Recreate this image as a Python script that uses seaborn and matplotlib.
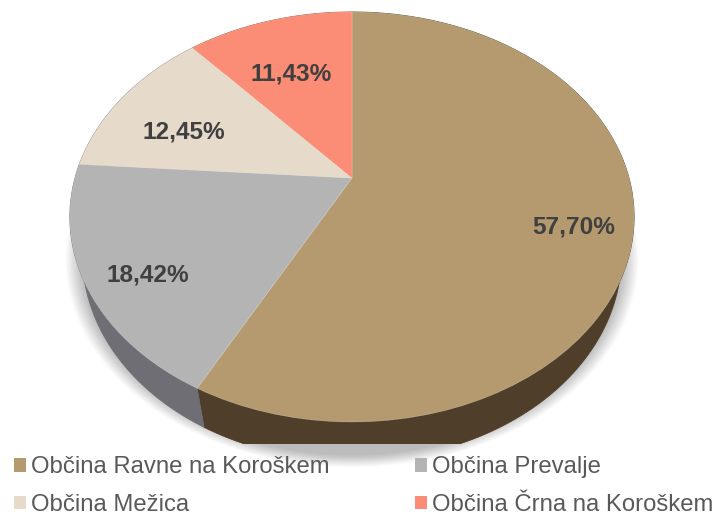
import numpy as np
import matplotlib
matplotlib.use("Agg")
import matplotlib.pyplot as plt
import seaborn as sns
from matplotlib.patches import Rectangle, Patch
from matplotlib.path import Path
from matplotlib.transforms import Transform

sns.set_theme(style="white")
plt.rcParams['font.family'] = ['Liberation Sans', 'DejaVu Sans']

# --- data -------------------------------------------------------------
categories = ["Občina Ravne na Koroškem", "Občina Prevalje", "Občina Mežica", "Občina Črna na Koroškem"]
values = [57.70, 18.42, 12.45, 11.43]
top_colors = ["#B49A6E", "#B4B4B4", "#E6DBCA", "#FB8C76"]
side_colors = ["#4F3E2A", "#6E6E74", "#8A8478", "#96543F"]
label_xy = [(574, 227), (148, 275), (184, 132), (291, 74)]

# --- perspective of the tilted disc (pixels) ----------------------------
CX, CY, A, B, K = 352.0, 178.0, 277.0, 197.6, 0.19
DEPTH, SHRINK = 39.0, 0.955
CLIP_Y = 444


def project(u, v):
    w = 1 + K * np.asarray(v)
    return CX + A * np.asarray(u) / w, CY - B * np.asarray(v) / w


class Tilt(Transform):
    input_dims = output_dims = 2
    has_inverted = False

    def transform_non_affine(self, xy):
        x, y = project(xy[:, 0], xy[:, 1])
        return np.column_stack([x, y])

    def transform_path_non_affine(self, path):
        return Path(self.transform_non_affine(path.vertices), path.codes)


fig = plt.figure(figsize=(7.15, 5.15), dpi=100, facecolor="white")
ax = fig.add_axes([0, 0, 1, 1])

palette = sns.color_palette(top_colors)
wedges, _ = ax.pie(values, colors=palette, startangle=90, counterclock=False, radius=1.0)
ax.set_aspect("auto")
ax.set_xlim(0, 715)
ax.set_ylim(515, 0)
ax.axis("off")

# soft shadow under the disc
t = np.linspace(0, 2 * np.pi, 240)
ex, ey = project(np.cos(t), np.sin(t))
for i in range(14):
    grow = 1.015 - i * 0.0045
    sx = CX + (ex - CX) * grow
    sy = 217 + (ey - 217) * grow + DEPTH + 3
    ax.fill(sx, sy, color="#000000", alpha=0.02, lw=0, zorder=0.5)

# rim
clip = Rectangle((0, 0), 715, CLIP_Y, transform=ax.transData)
for w, col in zip(wedges, side_colors):
    th = np.radians(np.linspace(w.theta1, w.theta2, 160))
    x, y = project(np.cos(th), np.sin(th))
    xb = CX + (x - CX) * SHRINK
    yb = y + DEPTH
    poly = ax.fill(np.r_[x, xb[::-1]], np.r_[y, yb[::-1]], color=col, lw=0.6, zorder=0.8)[0]
    poly.set_clip_path(clip)

# top face
tilt = Tilt() + ax.transData
for w in wedges:
    w.set_transform(tilt)
    w.set_zorder(1)
    w.set_linewidth(0.5)
    w.set_edgecolor((1, 1, 1, 0.25))

# data labels
for v, (lx, ly) in zip(values, label_xy):
    ax.text(lx, ly, f"{v:.2f}%".replace(".", ","), ha="center", va="center",
            fontsize=17.6, fontweight="bold", color="#404040", zorder=3)

# legend (columns fill first, so order handles column by column)
order = [0, 2, 1, 3]
handles = [Patch(facecolor=palette[i], edgecolor="none", label=categories[i]) for i in order]
leg = ax.legend(handles=handles, ncols=2, loc="lower left", bbox_to_anchor=(14 / 715, 1 - 516 / 515),
                frameon=False, fontsize=17.2, labelcolor="#595959",
                handlelength=0.5, handleheight=0.5, handletextpad=0.21,
                columnspacing=3.57, labelspacing=0.65, borderpad=0, borderaxespad=0)
leg.set_zorder(5)

fig.savefig("out.png", dpi=100)
